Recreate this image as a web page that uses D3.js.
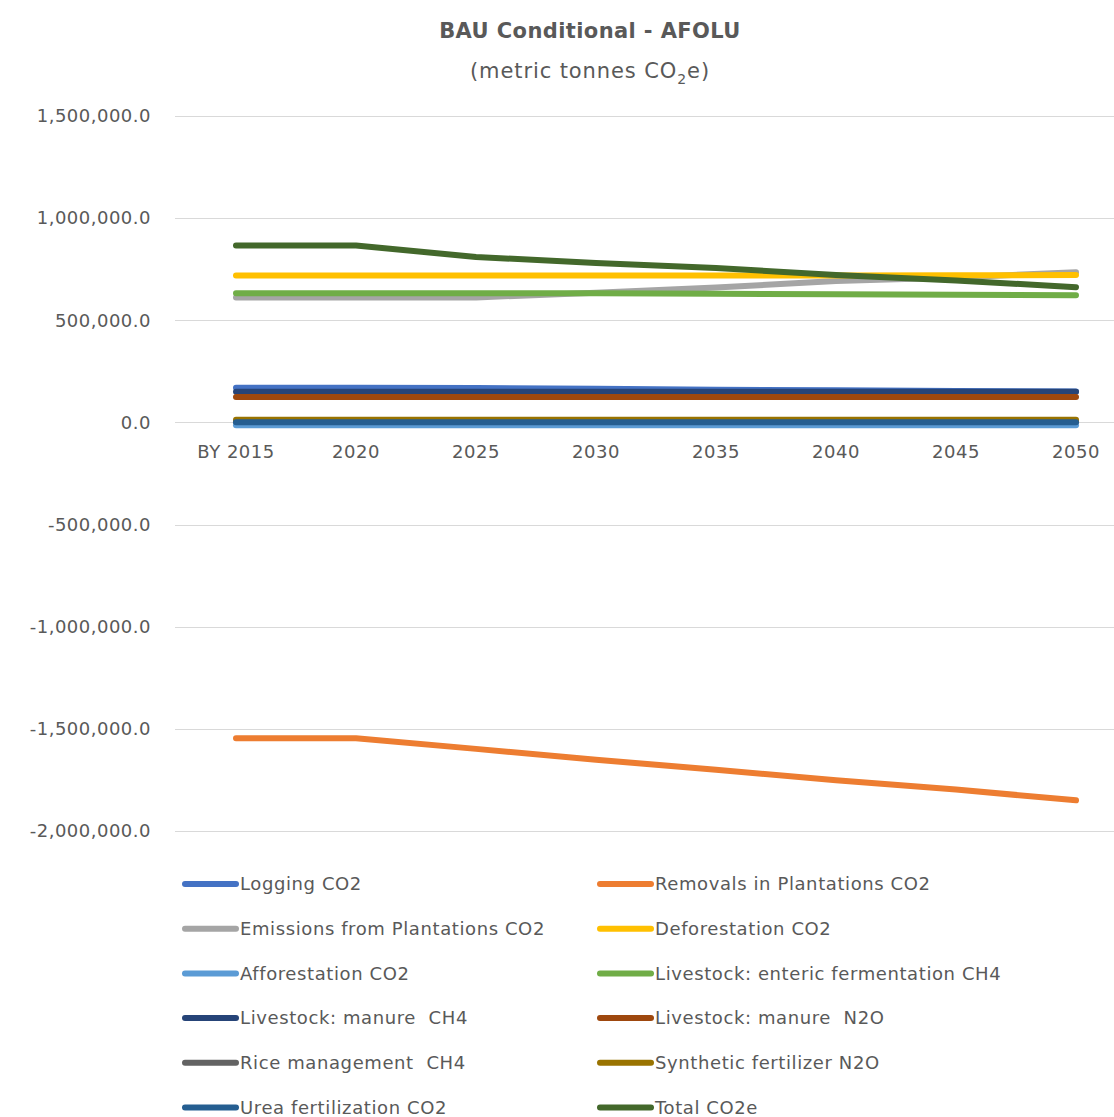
<!DOCTYPE html>
<html>
<head>
<meta charset="utf-8">
<script src="https://cdn.jsdelivr.net/npm/d3@7"></script>
<style>
  html, body { margin: 0; padding: 0; background: #ffffff; }
  svg { display: block; }
  text { font-family: "DejaVu Sans", sans-serif; fill: #595959; }
</style>
</head>
<body>
<svg id="chart" width="1114" height="1117"></svg>
<script>
// ---------- data ----------
const categories = ["BY 2015", "2020", "2025", "2030", "2035", "2040", "2045", "2050"];
const yTicks = [1500000, 1000000, 500000, 0, -500000, -1000000, -1500000, -2000000];

const loggingCO2        = [170000, 170000, 168000, 165000, 160000, 157000, 154000, 151000];
const removalsCO2       = [-1546000, -1546000, -1598000, -1651000, -1700000, -1752000, -1797000, -1850000];
const emissionsPlantCO2 = [612000, 612000, 612000, 635000, 660000, 692000, 710000, 735000];
const deforestationCO2  = [719000, 719000, 719000, 719000, 719000, 719000, 720000, 722000];
const afforestationCO2  = [-14000, -14000, -14000, -14000, -14000, -14000, -14000, -14000];
const entericCH4        = [632000, 632000, 632000, 632000, 630000, 628000, 625000, 623000];
const manureCH4         = [150000, 150000, 150000, 150000, 150000, 150000, 150000, 150000];
const manureN2O         = [124000, 124000, 124000, 124000, 124000, 124000, 124000, 124000];
const riceCH4           = [4000, 4000, 4000, 4000, 4000, 4000, 4000, 4000];
const syntheticN2O      = [13000, 13000, 13000, 13000, 13000, 13000, 13000, 13000];
const ureaCO2           = [1000, 1000, 1000, 1000, 1000, 1000, 1000, 1000];
const totalCO2e         = [866000, 866000, 810000, 780000, 756000, 722000, 695000, 662000];

const seriesNames = [
  "Logging CO2", "Removals in Plantations CO2",
  "Emissions from Plantations CO2", "Deforestation CO2",
  "Afforestation CO2", "Livestock: enteric fermentation CH4",
  "Livestock: manure  CH4", "Livestock: manure  N2O",
  "Rice management  CH4", "Synthetic fertilizer N2O",
  "Urea fertilization CO2", "Total CO2e"
];
const seriesValues = [
  loggingCO2, removalsCO2, emissionsPlantCO2, deforestationCO2,
  afforestationCO2, entericCH4, manureCH4, manureN2O,
  riceCH4, syntheticN2O, ureaCO2, totalCO2e
];
const seriesColors = [
  "#4472C4", "#ED7D31", "#A5A5A5", "#FFC000",
  "#5B9BD5", "#70AD47", "#264478", "#9E480E",
  "#636363", "#997300", "#255E91", "#43682B"
];

// ---------- layout ----------
const svg = d3.select("#chart");
const W = 1114;
const plotLeft = 176, plotRight = 1136, plotTop = 116, plotBottom = 831;

const x = d3.scaleBand().domain(categories).range([plotLeft, plotRight]).padding(0);
const xc = c => x(c) + x.bandwidth() / 2;
const y = d3.scaleLinear().domain([-2000000, 1500000]).range([plotBottom, plotTop]);

// title
svg.append("text").attr("x", 590).attr("y", 38).attr("text-anchor", "middle")
  .style("font-size", "21px").style("font-weight", "bold").style("letter-spacing", "0.4px")
  .text("BAU Conditional - AFOLU");
const sub = svg.append("text").attr("x", 590).attr("y", 78).attr("text-anchor", "middle")
  .style("font-size", "21px").style("letter-spacing", "0.9px");
sub.append("tspan").text("(metric tonnes CO");
sub.append("tspan").attr("dy", 6).style("font-size", "14px").text("2");
sub.append("tspan").attr("dy", -6).text("e)");

// gridlines
svg.append("g").selectAll("line").data(yTicks).join("line")
  .attr("x1", 175).attr("x2", W)
  .attr("y1", d => Math.round(y(d)) + 0.5).attr("y2", d => Math.round(y(d)) + 0.5)
  .attr("stroke", "#d9d9d9").attr("stroke-width", 1);

// y axis labels
const fmt = d3.format(",.1f");
const yAxis = d3.axisLeft(y).tickValues(yTicks)
  .tickFormat(d => fmt(d).replace("\u2212", "-")).tickSize(0).tickPadding(0);
const gy = svg.append("g").attr("transform", "translate(151,0)").call(yAxis);
gy.select(".domain").remove();
gy.selectAll("text").style("font-size", "18px").style("fill", "#595959")
  .style("letter-spacing", "0.5px")
  .style("font-family", "DejaVu Sans, sans-serif");

// x axis labels (at zero line)
const xAxis = d3.axisBottom(x).tickSize(0).tickPadding(0);
const gx = svg.append("g").attr("transform", `translate(0,${y(0) + 23})`).call(xAxis);
gx.select(".domain").remove();
gx.selectAll("text").style("font-size", "18px").style("fill", "#595959")
  .style("letter-spacing", "0.5px")
  .style("font-family", "DejaVu Sans, sans-serif");

// lines
const line = d3.line().x((d, i) => xc(categories[i])).y(d => y(d));
svg.append("g").selectAll("path").data(seriesValues).join("path")
  .attr("d", d => line(d))
  .attr("fill", "none")
  .attr("stroke", (d, i) => seriesColors[i])
  .attr("stroke-width", 6)
  .attr("stroke-linecap", "round")
  .attr("stroke-linejoin", "round");

// legend
const legCols = [182, 597];
const legRow0 = 884, legStep = 44.7;
const leg = svg.append("g").selectAll("g").data(seriesNames).join("g")
  .attr("transform", (d, i) => `translate(${legCols[i % 2]},${legRow0 + Math.floor(i / 2) * legStep})`);
leg.append("line").attr("x1", 3).attr("x2", 54).attr("y1", 0).attr("y2", 0)
  .attr("stroke", (d, i) => seriesColors[i]).attr("stroke-width", 6).attr("stroke-linecap", "round");
leg.append("text").attr("x", 58).attr("y", 0).attr("dy", "0.35em")
  .style("font-size", "18px").style("letter-spacing", "0.6px")
  .style("white-space", "pre").text(d => d);
</script>
</body>
</html>
